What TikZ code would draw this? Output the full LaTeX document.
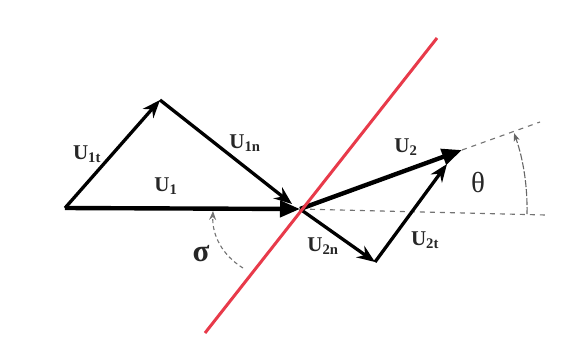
\documentclass[tikz,border=0pt]{standalone}
\usepackage{fontspec}
\setmainfont{Liberation Serif}
\usetikzlibrary{arrows.meta,calc}
\begin{document}
\begin{tikzpicture}[x=1pt,y=-1pt,
  vec/.style={line width=3.3pt,-{Stealth[length=18pt,width=14pt,inset=6pt]}},
  bigvec/.style={line width=4.4pt,-{Triangle[length=20pt,width=16pt]}},
  lbl/.style={font=\bfseries\fontsize{21}{21}\selectfont, text=black!85},
  greek/.style={text=black!85},
  guide/.style={dashed, dash pattern=on 5pt off 5pt, line width=1.1pt, black!55},
  shock/.style={line width=3pt, color={rgb,255:red,232;green,58;blue,74}}]
\useasboundingbox[fill=white] (0,0) rectangle (567,343);
\coordinate (O) at (65,208);
\coordinate (A) at (160,100);
\coordinate (P) at (300,209);
\coordinate (B) at (375,262);
\coordinate (T) at (462,150);
\coordinate (Pn) at (292,204);
\coordinate (Tt) at (447,164);
\coordinate (H) at (545,215);
\coordinate (E) at (540,122);
\coordinate (R1) at (205,333);
\coordinate (R2) at (437,38);
\coordinate (S1) at (243,268);
\coordinate (S2) at (213,211);
% guides
\draw[guide] (P) -- (H);
\draw[guide] (T) -- (E);
\draw[line width=1.1pt, black!60, dash pattern=on 7pt off 2pt, -{Stealth[length=8pt,width=6pt,inset=2pt]}]
  ($(P)+(227,5)$) arc[start angle=1.3, end angle=-19.5, radius=227];
\draw[guide, dash pattern=on 4pt off 3pt, -{Stealth[length=9pt,width=7pt,inset=3pt]}] (S1) .. controls (222,255) and (212,235) .. (S2);
% vectors
\draw[bigvec] (O) -- (P);
\draw[vec] (O) -- (A);
\draw[vec] (A) -- (Pn);
\draw[bigvec] (P) -- (T);
\draw[vec] (P) -- (B);
\draw[vec] (B) -- (Tt);
% shock line
\draw[shock] (R1) -- (R2);
% labels
\node[lbl] (l1t) at (87,154) {U\textsubscript{1t}};
\node[lbl] (l1n) at (245,143) {U\textsubscript{1n}};
\node[lbl] (l1) at (166,186) {U\textsubscript{1}};
\node[lbl] (l2) at (406,147) {U\textsubscript{2}};
\node[lbl] (l2n) at (323,246) {U\textsubscript{2n}};
\node[lbl] (l2t) at (425,240) {U\textsubscript{2t}};
\node[greek, font=\fontsize{29}{29}\selectfont] (th) at (478,182) {θ};
\node[greek, font=\bfseries\fontsize{31}{31}\selectfont] (sg) at (201,254) {σ};
\end{tikzpicture}
\end{document}
